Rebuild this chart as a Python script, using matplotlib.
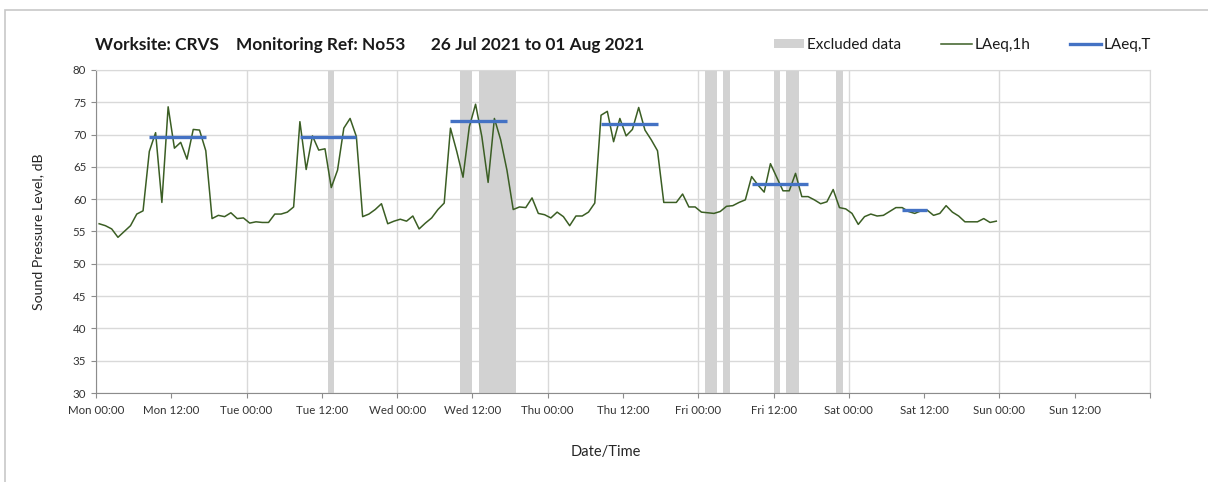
import matplotlib
matplotlib.use('Agg')
import matplotlib.pyplot as plt
import matplotlib.dates as mdates
from matplotlib.patches import Patch, Rectangle
from matplotlib.lines import Line2D
from matplotlib.ticker import FuncFormatter
import pandas as pd

plt.rcParams['font.family'] = ['Lato', 'DejaVu Sans']

# hourly LAeq,1h values, Mon 26 Jul 2021 to Sat 31 Jul 2021
laeq_1h = [56.2, 55.9, 55.4, 54.1, 55.0, 55.9, 57.7, 58.2, 67.4, 70.3, 59.5, 74.3,
           67.9, 68.8, 66.2, 70.8, 70.7, 67.5, 57.0, 57.5, 57.3, 57.9, 57.0, 57.1,
           56.3, 56.5, 56.4, 56.4, 57.7, 57.7, 58.0, 58.8, 72.0, 64.6, 69.8, 67.6,
           67.8, 61.8, 64.5, 71.0, 72.5, 69.7, 57.3, 57.7, 58.4, 59.3, 56.2, 56.6,
           56.9, 56.6, 57.4, 55.4, 56.3, 57.1, 58.4, 59.4, 71.0, 67.4, 63.4, 71.2,
           74.7, 69.7, 62.6, 72.5, 69.2, 64.5, 58.4, 58.8, 58.7, 60.2, 57.8, 57.6,
           57.1, 58.0, 57.3, 55.9, 57.4, 57.4, 58.0, 59.4, 73.0, 73.6, 68.9, 72.5,
           69.8, 70.8, 74.2, 70.7, 69.2, 67.5, 59.5, 59.5, 59.5, 60.8, 58.8, 58.8,
           58.0, 57.9, 57.8, 58.1, 58.9, 59.0, 59.5, 59.9, 63.5, 62.2, 61.1, 65.5,
           63.4, 61.3, 61.3, 64.0, 60.4, 60.4, 59.9, 59.3, 59.6, 61.5, 58.7, 58.5,
           57.8, 56.1, 57.3, 57.7, 57.4, 57.5, 58.1, 58.7, 58.7, 58.1, 57.8, 58.2,
           58.3, 57.5, 57.8, 59.0, 58.0, 57.4, 56.5, 56.5, 56.5, 57.0, 56.4, 56.6]
times = pd.date_range('2021-07-26 00:30', periods=len(laeq_1h), freq='h')

# LAeq,T over each daytime period
period_start = ['2021-07-26 08:30', '2021-07-27 08:30', '2021-07-28 08:30',
                '2021-07-29 08:30', '2021-07-30 08:30', '2021-07-31 08:30']
period_end = ['2021-07-26 17:30', '2021-07-27 17:30', '2021-07-28 17:30',
              '2021-07-29 17:30', '2021-07-30 17:30', '2021-07-31 12:30']
laeq_T = [69.6, 69.6, 72.1, 71.6, 62.4, 58.3]

# excluded data windows
excl_start = ['2021-07-27 13:00', '2021-07-28 10:00', '2021-07-28 13:00',
              '2021-07-30 01:00', '2021-07-30 04:00', '2021-07-30 12:00',
              '2021-07-30 14:00', '2021-07-30 22:00']
excl_end = ['2021-07-27 14:00', '2021-07-28 12:00', '2021-07-28 19:00',
            '2021-07-30 03:00', '2021-07-30 05:00', '2021-07-30 13:00',
            '2021-07-30 16:00', '2021-07-30 23:00']

x_start = pd.Timestamp('2021-07-26 00:00')
x_end = pd.Timestamp('2021-08-02 00:00')

fig = plt.figure(figsize=(12.08, 4.82), dpi=100)
ax = fig.add_axes([96/1208, 1-393/482, (1150-96)/1208, (393-70)/482])

# outer chart border
fig.patches.append(Rectangle((5/1208, -0.1), 1.2, 1 - 10/482 + 0.1, transform=fig.transFigure,
                             fill=False, edgecolor='#c8c8c8', linewidth=1.2))

for s, e in zip(excl_start, excl_end):
    ax.axvspan(pd.Timestamp(s), pd.Timestamp(e), color='#d2d2d2', lw=0, zorder=1)

ax.plot(times, laeq_1h, color='#3b5e24', lw=1.1, zorder=3)
for s, e, v in zip(period_start, period_end, laeq_T):
    ax.plot([pd.Timestamp(s), pd.Timestamp(e)], [v, v], color='#4472c4', lw=2.4,
            solid_capstyle='butt', zorder=4)

ax.set_xlim(x_start, x_end)
ax.set_ylim(30, 80)
ax.set_yticks(range(30, 81, 5))

end_num = mdates.date2num(x_end)
date_fmt = mdates.DateFormatter('%a %H:%M')
def fmt(x, pos=None):
    if abs(x - end_num) < 1e-6:
        return ''
    return date_fmt(x, pos)

ax.xaxis.set_major_locator(mdates.HourLocator(byhour=[0, 12]))
ax.xaxis.set_major_formatter(FuncFormatter(fmt))
ax.xaxis.set_minor_locator(mdates.DayLocator())
ax.xaxis.remove_overlapping_locs = False
ax.grid(axis='y', color='#d9d9d9', lw=1, zorder=0)
ax.grid(axis='x', which='minor', color='#d9d9d9', lw=1, zorder=0)
ax.set_axisbelow(True)
ax.tick_params(axis='x', which='minor', length=0)
ax.tick_params(axis='both', which='major', colors='#8c8c8c', labelcolor='#333333',
               labelsize=8.3, length=3.5, width=0.8)
ax.tick_params(axis='x', pad=5)

for sp in ['top', 'right']:
    ax.spines[sp].set_color('#d9d9d9')
for sp in ['left', 'bottom']:
    ax.spines[sp].set_color('#8c8c8c')

ax.set_ylabel('Sound Pressure Level, dB', fontsize=10.2, color='#262626')
ax.yaxis.set_label_coords(-0.049, 0.5)
ax.set_xlabel('Date/Time', fontsize=10.5, color='#262626')
ax.xaxis.set_label_coords(0.484, -0.162)

fig.text(95/1208, 1-45/482,
         'Worksite: CRVS    Monitoring Ref: No53      26 Jul 2021 to 01 Aug 2021',
         fontsize=12.4, fontweight='bold', color='#1a1a1a', va='center', ha='left')

handles = [Patch(facecolor='#d2d2d2', edgecolor='none'),
           Line2D([], [], color='#3b5e24', lw=1.1),
           Line2D([], [], color='#4472c4', lw=2.4)]
fig.legend(handles, ['Excluded data', 'LAeq,1h', 'LAeq,T'], ncol=3, frameon=False,
           loc='center right', bbox_to_anchor=(1165/1208, 1-45/482), fontsize=11,
           handlelength=2.0, handleheight=0.6, handletextpad=0.2, columnspacing=2.6,
           labelcolor='#1a1a1a')

fig.savefig('out.png', dpi=100)
